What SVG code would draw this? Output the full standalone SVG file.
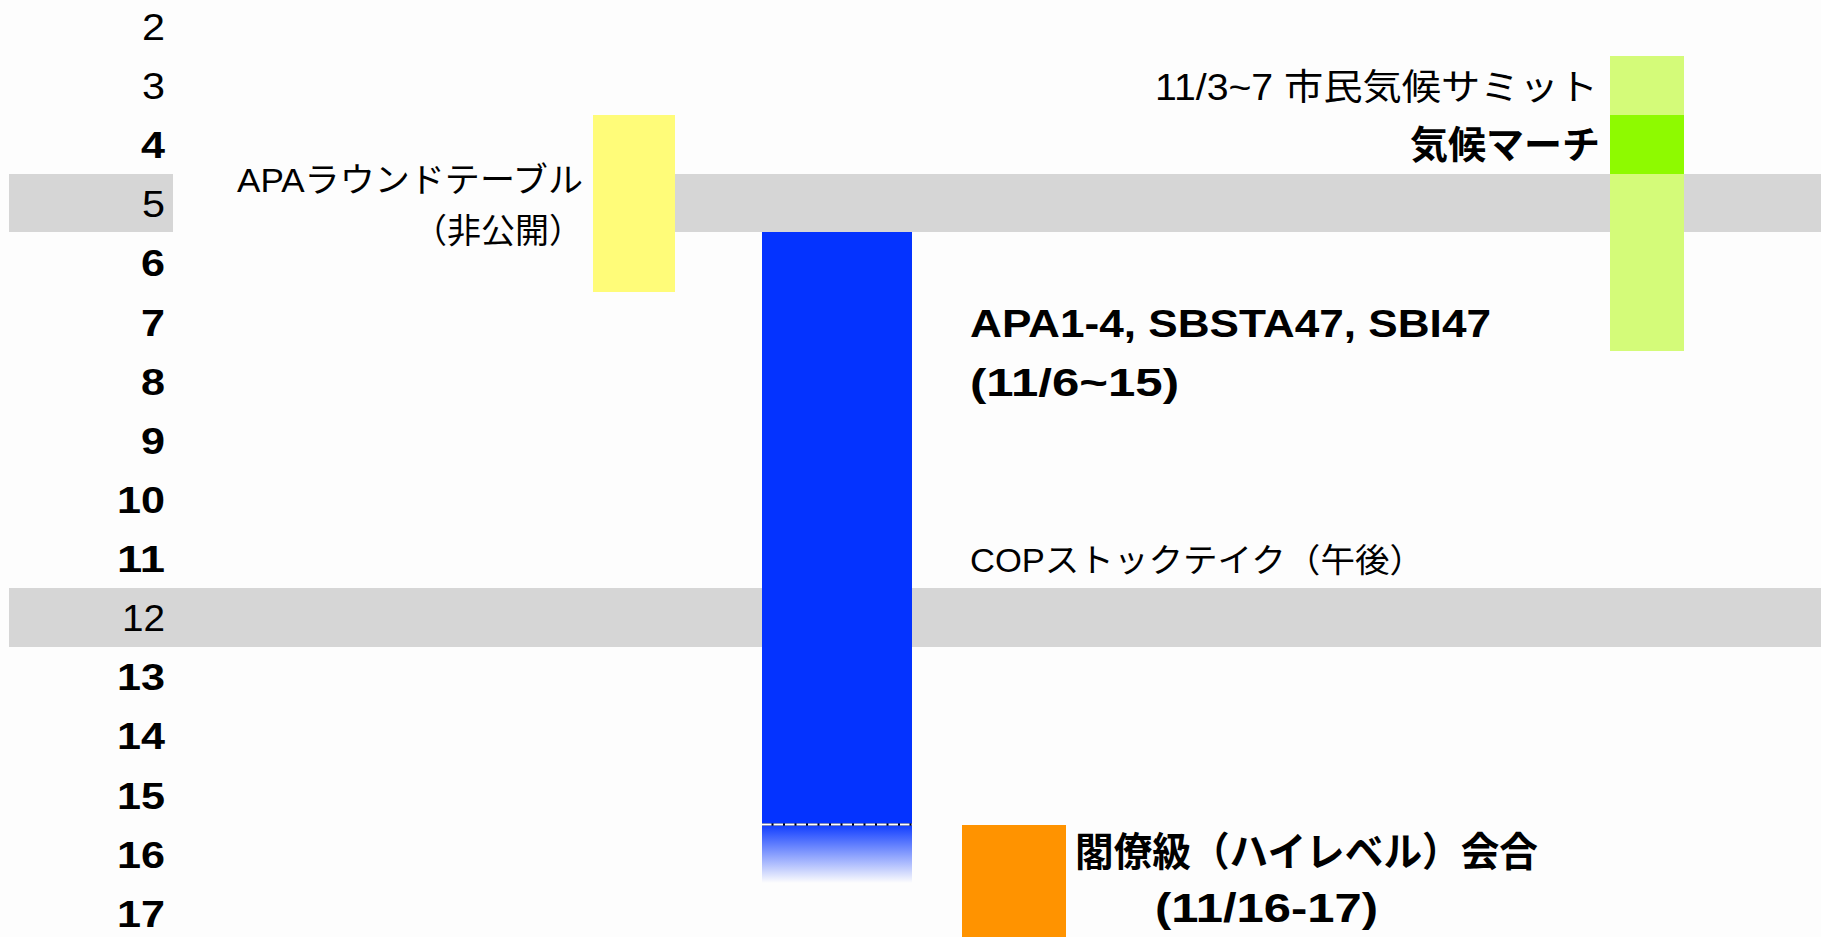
<svg xmlns="http://www.w3.org/2000/svg" width="1821" height="937" viewBox="0 0 1821 937">
<style>
.num{font-family:"Liberation Sans","Noto Sans CJK JP",sans-serif;font-size:36px;text-anchor:end;fill:#000}
.b{font-weight:bold}
.t{font-weight:normal}
.lbl{font-family:"Liberation Sans","Noto Sans CJK JP",sans-serif;fill:#000}
</style>
<defs>
<linearGradient id="fade" x1="0" y1="0" x2="0" y2="1">
<stop offset="0" stop-color="#0433ff" stop-opacity="0.95"/>
<stop offset="1" stop-color="#0433ff" stop-opacity="0"/>
</linearGradient>
</defs>
<rect x="0" y="0" width="1821" height="937" fill="#fdfdfd"/>
<g id="bands">
<rect x="9" y="174" width="164" height="58" fill="#d6d6d6"/>
<rect x="675" y="174" width="1146" height="58" fill="#d6d6d6"/>
<rect x="9" y="588" width="1812" height="59" fill="#d6d6d6"/>
</g>
<g id="axis">
<text class="num t" x="165" y="40" textLength="23" lengthAdjust="spacingAndGlyphs">2</text>
<text class="num t" x="165" y="99" textLength="23" lengthAdjust="spacingAndGlyphs">3</text>
<text class="num b" x="165" y="158" textLength="24" lengthAdjust="spacingAndGlyphs">4</text>
<text class="num t" x="165" y="217" textLength="23" lengthAdjust="spacingAndGlyphs">5</text>
<text class="num b" x="165" y="276" textLength="24" lengthAdjust="spacingAndGlyphs">6</text>
<text class="num b" x="165" y="336" textLength="24" lengthAdjust="spacingAndGlyphs">7</text>
<text class="num b" x="165" y="395" textLength="24" lengthAdjust="spacingAndGlyphs">8</text>
<text class="num b" x="165" y="454" textLength="24" lengthAdjust="spacingAndGlyphs">9</text>
<text class="num b" x="165" y="513" textLength="48" lengthAdjust="spacingAndGlyphs">10</text>
<text class="num b" x="165" y="572" textLength="48" lengthAdjust="spacingAndGlyphs">11</text>
<text class="num t" x="165" y="631" textLength="43" lengthAdjust="spacingAndGlyphs">12</text>
<text class="num b" x="165" y="690" textLength="48" lengthAdjust="spacingAndGlyphs">13</text>
<text class="num b" x="165" y="749" textLength="48" lengthAdjust="spacingAndGlyphs">14</text>
<text class="num b" x="165" y="809" textLength="48" lengthAdjust="spacingAndGlyphs">15</text>
<text class="num b" x="165" y="868" textLength="48" lengthAdjust="spacingAndGlyphs">16</text>
<text class="num b" x="165" y="927" textLength="48" lengthAdjust="spacingAndGlyphs">17</text>
</g>
<g id="apa-roundtable">
<rect x="593" y="115" width="82" height="177" fill="#fffc79"/>
<text class="lbl" x="237" y="192" font-size="34" textLength="346" lengthAdjust="spacingAndGlyphs">APAラウンドテーブル</text>
<text class="lbl" x="583" y="243" font-size="34" text-anchor="end">（非公開）</text>
</g>
<g id="citizens-summit">
<rect x="1610" y="56" width="74" height="295" fill="#d4fb79"/>
<rect x="1610" y="115" width="74" height="59" fill="#8efa00"/>
<text class="lbl" x="1155" y="100" font-size="36" textLength="443" lengthAdjust="spacingAndGlyphs">11/3~7 市民気候サミット</text>
<text class="lbl b" x="1600" y="158" font-size="38" text-anchor="end">気候マーチ</text>
</g>
<g id="apa-sessions">
<rect x="762" y="232" width="150" height="592" fill="#0433ff"/>
<rect x="762" y="825" width="150" height="58" fill="url(#fade)"/>
<line x1="762" y1="824.5" x2="912" y2="824.5" stroke="#000" stroke-width="2"/>
<line x1="762" y1="824.5" x2="912" y2="824.5" stroke="#fff" stroke-width="2" stroke-dasharray="9.5 2"/>
<text class="lbl b" x="970" y="337" font-size="39" textLength="521" lengthAdjust="spacingAndGlyphs">APA1-4, SBSTA47, SBI47</text>
<text class="lbl b" x="970" y="396" font-size="39" textLength="209" lengthAdjust="spacingAndGlyphs">(11/6~15)</text>
</g>
<g id="cop-stocktake">
<text class="lbl" x="970" y="572" font-size="33" textLength="454" lengthAdjust="spacingAndGlyphs">COPストックテイク（午後）</text>
</g>
<g id="high-level">
<rect x="962" y="825" width="104" height="112" fill="#ff9300"/>
<text class="lbl b" x="1075" y="866" font-size="40" textLength="463" lengthAdjust="spacingAndGlyphs">閣僚級（ハイレベル）会合</text>
<text class="lbl b" x="1155" y="922" font-size="40" textLength="223" lengthAdjust="spacingAndGlyphs">(11/16-17)</text>
</g>
</svg>
